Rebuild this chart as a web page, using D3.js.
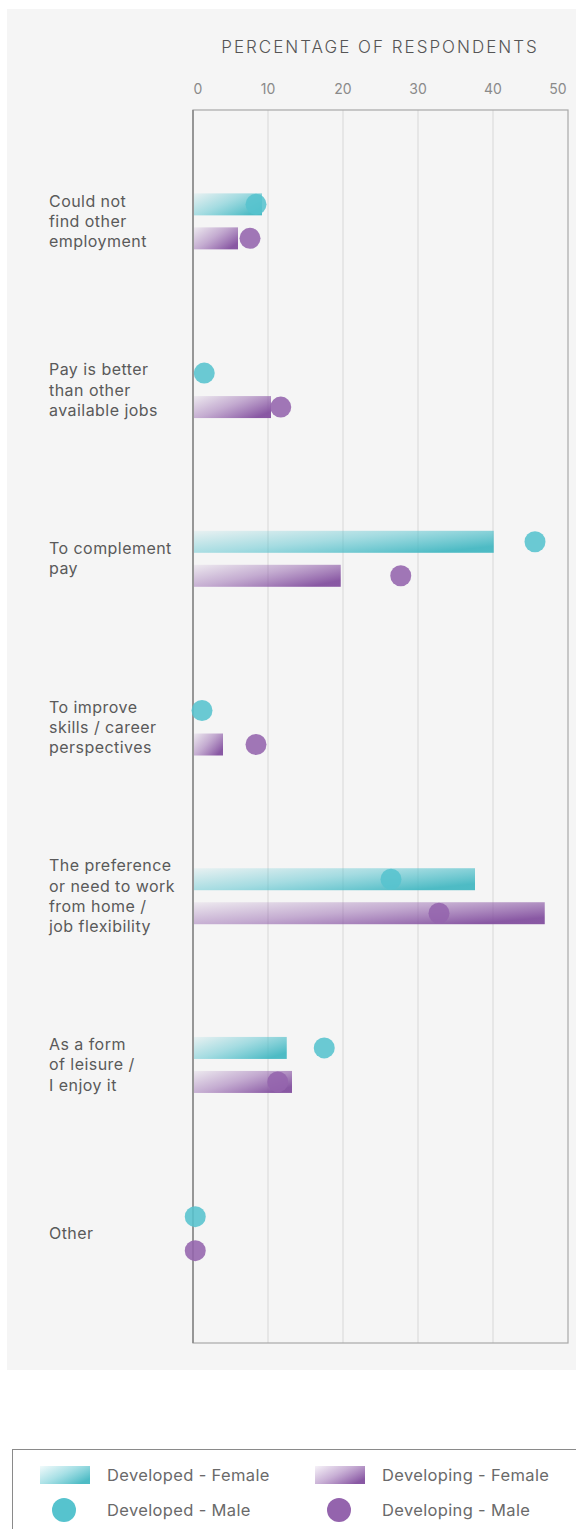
<!DOCTYPE html>
<html>
<head>
<meta charset="utf-8">
<script src="https://d3js.org/d3.v7.min.js"></script>
<style>
  body { margin:0; background:#fff; font-family:Inter, "Noto Sans", sans-serif; }
  svg { display:block; }
  .tick-label { fill:#8a8a8a; font-size:14px; }
  .cat-label { fill:#5a5a5a; font-size:16px; letter-spacing:0.45px; }
  .legend-text { fill:#6a6a6a; font-size:16.5px; letter-spacing:0.35px; }
</style>
</head>
<body>
<svg width="576" height="1529"></svg>
<script>
// data (percent of respondents)
const categories = [
  ["Could not", "find other", "employment"],
  ["Pay is better", "than other", "available jobs"],
  ["To complement", "pay"],
  ["To improve", "skills / career", "perspectives"],
  ["The preference", "or need to work", "from home /", "job flexibility"],
  ["As a form", "of leisure /", "I enjoy it"],
  ["Other"]
];
const developedFemale  = [9.2, 0, 40.1, 0, 37.6, 12.5, 0];
const developedMale    = [8.4, 1.5, 45.6, 1.2, 26.4, 17.5, 0.3];
const developingFemale = [6.0, 10.4, 19.7, 4.0, 46.9, 13.2, 0];
const developingMale   = [7.6, 11.7, 27.7, 8.4, 32.8, 11.3, 0.3];
const xTicks = [0, 10, 20, 30, 40, 50];
const legendItems = [
  {label:"Developed - Female", kind:"bar", series:"dev"},
  {label:"Developing - Female", kind:"bar", series:"dvg"},
  {label:"Developed - Male", kind:"dot", series:"dev"},
  {label:"Developing - Male", kind:"dot", series:"dvg"}
];

const colors = { dev:"#56c3ce", dvg:"#9464ad" };
const barEnd = { dev:"#45b8c2", dvg:"#83509f" };

const svg = d3.select("svg");
const frame = { left:193, right:568, top:110, bottom:1343 };

// background panel
svg.append("rect").attr("x",7).attr("y",9).attr("width",569).attr("height",1361).attr("fill","#f5f5f5");

// gradients
const defs = svg.append("defs");
["dev","dvg"].forEach(k => {
  const lg = defs.append("linearGradient").attr("id","grad-"+k)
    .attr("x1",0).attr("y1",0).attr("x2",1).attr("y2",0.7);
  lg.append("stop").attr("offset","0%").attr("stop-color",colors[k]).attr("stop-opacity",0.08);
  lg.append("stop").attr("offset","50%").attr("stop-color",colors[k]).attr("stop-opacity",0.5);
  lg.append("stop").attr("offset","100%").attr("stop-color",barEnd[k]).attr("stop-opacity",0.95);
});

const x = d3.scaleLinear().domain([0,50]).range([frame.left, frame.right]);
const y = d3.scaleBand().domain(d3.range(categories.length)).range([137, 1318]);

// title
svg.append("text").attr("x",380).attr("y",53).attr("text-anchor","middle")
  .attr("fill","#555").style("font-size","17px").style("font-weight",300)
  .style("letter-spacing","2px").text("PERCENTAGE OF RESPONDENTS");

// gridlines
svg.append("g").selectAll("line").data(xTicks.slice(1, -1)).join("line")
  .attr("x1",d=>x(d)).attr("x2",d=>x(d)).attr("y1",frame.top).attr("y2",frame.bottom)
  .attr("stroke","#dcdcdc").attr("stroke-width",1.2);

// tick labels
svg.append("g").selectAll("text").data(xTicks).join("text")
  .attr("class","tick-label")
  .attr("x",d => x(d) + (d===0 ? 5 : d===50 ? -10 : 0))
  .attr("y",94).attr("text-anchor","middle").text(d=>d);

// frame
svg.append("rect").attr("x",frame.left).attr("y",frame.top)
  .attr("width",frame.right-frame.left).attr("height",frame.bottom-frame.top)
  .attr("fill","none").attr("stroke","#a8a8a8").attr("stroke-width",1.2);
svg.append("line").attr("x1",frame.left).attr("x2",frame.left)
  .attr("y1",frame.top).attr("y2",frame.bottom).attr("stroke","#8a8a8a").attr("stroke-width",1.6);

const rows = categories.map((c,i) => ({
  i, lines:c,
  dev:{ bar:developedFemale[i], dot:developedMale[i] },
  dvg:{ bar:developingFemale[i], dot:developingMale[i] }
}));
const cy = i => y(i) + y.bandwidth()/2;

// category labels
const lab = svg.append("g").selectAll("text").data(rows).join("text")
  .attr("class","cat-label")
  .attr("x",49)
  .attr("y",d => cy(d.i) - (d.lines.length-1)*20.3/2 + 5.5);
lab.selectAll("tspan").data(d=>d.lines).join("tspan")
  .attr("x",49).attr("dy",(d,j)=> j===0 ? 0 : 20.3).text(d=>d);

// bars and dots
const barH = 22, r = 10.5;
["dev","dvg"].forEach(k => {
  const off = k==="dev" ? -17 : 17;
  svg.append("g").selectAll("rect").data(rows.filter(d=>d[k].bar>0)).join("rect")
    .attr("x",x(0)+1).attr("y",d=>cy(d.i)+off-barH/2)
    .attr("width",d=>x(d[k].bar)-x(0)-1).attr("height",barH)
    .attr("fill","url(#grad-"+k+")");
});
["dev","dvg"].forEach(k => {
  const off = k==="dev" ? -17 : 17;
  svg.append("g").selectAll("circle").data(rows).join("circle")
    .attr("cx",d=>x(d[k].dot)).attr("cy",d=>cy(d.i)+off).attr("r",r)
    .attr("fill",colors[k]).attr("fill-opacity",0.88);
});

// legend
const leg = svg.append("g");
leg.append("rect").attr("x",12.5).attr("y",1449.5).attr("width",600).attr("height",100)
  .attr("fill","#fff").attr("stroke","#8a8a8a").attr("stroke-width",1);
const legX = { dev:40, dvg:315 };
legendItems.forEach(it => {
  const lx = legX[it.series];
  const ly = it.kind==="bar" ? 1475 : 1510;
  if (it.kind==="bar") {
    leg.append("rect").attr("x",lx).attr("y",ly-9).attr("width",50).attr("height",18)
      .attr("fill","url(#grad-"+it.series+")");
  } else {
    leg.append("circle").attr("cx",lx+24).attr("cy",ly).attr("r",12)
      .attr("fill",colors[it.series]);
  }
  leg.append("text").attr("class","legend-text").attr("x",lx+67).attr("y",ly+6).text(it.label);
});
</script>
</body>
</html>
